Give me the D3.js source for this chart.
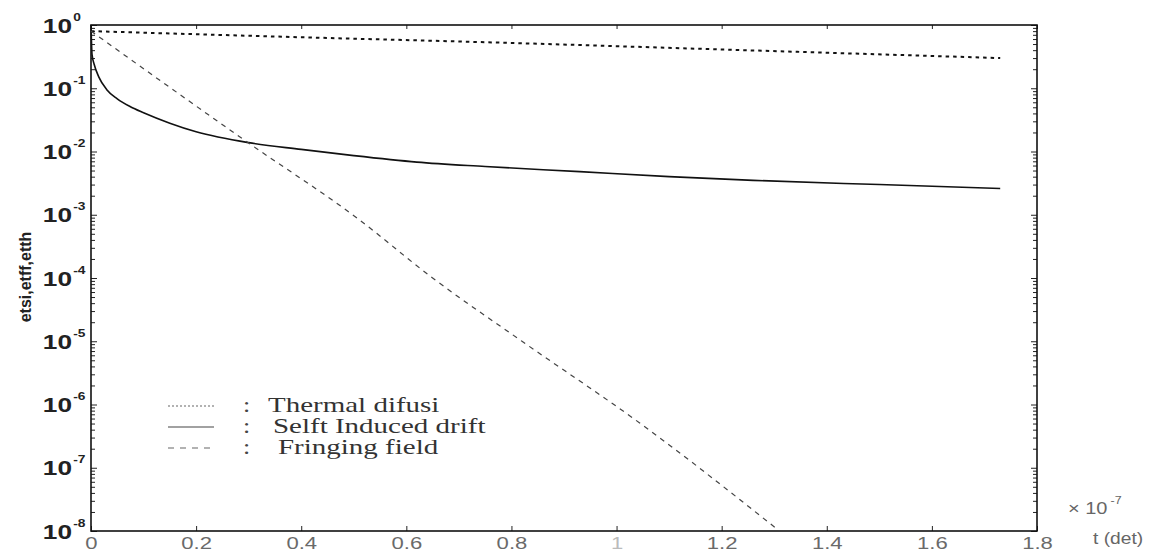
<!DOCTYPE html>
<html>
<head>
<meta charset="utf-8">
<script src="https://cdn.jsdelivr.net/npm/d3@7"></script>
<style>
  body { margin: 0; background: #fff; }
  svg { display: block; }
</style>
</head>
<body>
<div id="chart"></div>
<script>
// --- data (t in units of 1e-7 s) ---
const thermalT = [0, 0.4, 0.8, 1.16, 1.73];
const thermalV = [0.80, 0.64, 0.52, 0.42, 0.30];

const selfT = [0, 0.002, 0.006, 0.015, 0.03, 0.05, 0.075, 0.1, 0.15, 0.2, 0.3, 0.4, 0.5, 0.62, 0.75, 0.93, 1.1, 1.26, 1.5, 1.73];
const selfV = [1.0, 0.34, 0.24, 0.15, 0.095, 0.068, 0.051, 0.041, 0.028, 0.0205, 0.0138, 0.0108, 0.0086, 0.0068, 0.0058, 0.0048, 0.0040, 0.0035, 0.0030, 0.0026];

const fringeT = [0, 0.3, 0.506, 0.65, 0.82, 1.044, 1.31];
const fringeV = [0.8, 0.0136, 8.9e-4, 1e-4, 1e-5, 5.1e-7, 1e-8];

const xTicks = [0, 0.2, 0.4, 0.6, 0.8, 1, 1.2, 1.4, 1.6, 1.8];
const yExponents = [0, -1, -2, -3, -4, -5, -6, -7, -8];

const legendLabels = ["Thermal difusi", "Selft Induced drift", "Fringing field"];
const yTitle = "etsi,etff,etth";
const xTitle = "t (det)";
const xMultiplier = "-7";

// --- sizing ---
const W = 1172, H = 556;
const plotL = 91, plotR = 1037, plotT = 25, plotB = 531;

const svg = d3.select("#chart").append("svg")
  .attr("width", W).attr("height", H);

const x = d3.scaleLinear().domain([0, 1.8]).range([plotL, plotR]);
const y = d3.scaleLog().domain([1e-8, 1]).range([plotB, plotT]);

// minor ticks on log axis
const minorY = [];
yExponents.forEach(e => {
  if (e === 0) return;
  for (let k = 2; k <= 9; k++) minorY.push(k * Math.pow(10, e));
});
const majorY = yExponents.map(e => Math.pow(10, e));

function styleAxis(g) {
  g.select(".domain").remove();
  g.selectAll(".tick line").attr("stroke", "#222").attr("stroke-width", 1);
}

// left / right ticks (inward)
svg.append("g").attr("transform", `translate(${plotL},0)`)
  .call(d3.axisLeft(y).tickValues(majorY).tickSize(-6).tickFormat(""))
  .call(styleAxis);
svg.append("g").attr("transform", `translate(${plotL},0)`)
  .call(d3.axisLeft(y).tickValues(minorY).tickSize(-4).tickFormat(""))
  .call(styleAxis);
svg.append("g").attr("transform", `translate(${plotR},0)`)
  .call(d3.axisRight(y).tickValues(majorY).tickSize(-6).tickFormat(""))
  .call(styleAxis);
svg.append("g").attr("transform", `translate(${plotR},0)`)
  .call(d3.axisRight(y).tickValues(minorY).tickSize(-4).tickFormat(""))
  .call(styleAxis);

// bottom / top ticks
const xAxisG = svg.append("g").attr("transform", `translate(0,${plotB})`)
  .call(d3.axisBottom(x).tickValues(xTicks).tickSize(-5).tickPadding(6)
    .tickFormat(d => d === 0 ? "0" : String(+d.toFixed(1))))
  .call(styleAxis);
xAxisG.selectAll(".tick text")
  .attr("font-family", "Liberation Sans, Arial, sans-serif")
  .attr("font-size", 17)
  .attr("fill", d => d === 1 ? "#bbb" : "#6a6a6a")
  .attr("transform", "scale(1.3,1)");

svg.append("g").attr("transform", `translate(0,${plotT})`)
  .call(d3.axisTop(x).tickValues(xTicks).tickSize(-4).tickFormat(""))
  .call(styleAxis);

// frame
svg.append("rect")
  .attr("x", plotL).attr("y", plotT)
  .attr("width", plotR - plotL).attr("height", plotB - plotT)
  .attr("fill", "none").attr("stroke", "#111").attr("stroke-width", 1.6);

// y tick labels 10^n
const yLab = svg.append("g").selectAll("g")
  .data(yExponents).enter().append("g")
  .attr("transform", e => `translate(72,${y(Math.pow(10, e)) + 7.5}) scale(1.25,1)`);
yLab.append("text")
  .attr("text-anchor", "end")
  .attr("font-family", "Liberation Sans, Arial, sans-serif")
  .attr("font-weight", "bold")
  .attr("font-size", 21)
  .attr("fill", "#222")
  .text("10");
yLab.append("text")
  .attr("x", 1).attr("y", -12)
  .attr("font-family", "Liberation Sans, Arial, sans-serif")
  .attr("font-weight", "bold")
  .attr("font-size", 11)
  .attr("fill", "#222")
  .text(e => e === 0 ? "0" : String(e));

// y title
svg.append("text")
  .attr("transform", `translate(31,277) rotate(-90)`)
  .attr("text-anchor", "middle")
  .attr("font-family", "Liberation Sans, Arial, sans-serif")
  .attr("font-weight", "bold")
  .attr("font-size", 16)
  .attr("fill", "#222")
  .text(yTitle);

// x multiplier and title
const mult = svg.append("g").attr("transform", "translate(1068,514) scale(1.25,1)");
mult.append("text")
  .attr("font-family", "Liberation Sans, Arial, sans-serif")
  .attr("font-size", 16).attr("fill", "#666")
  .text("\u00d7 10");
mult.append("text")
  .attr("x", 34).attr("y", -10)
  .attr("font-family", "Liberation Sans, Arial, sans-serif")
  .attr("font-size", 10).attr("fill", "#666")
  .text(xMultiplier);
svg.append("g").attr("transform", "translate(1093,544) scale(1.2,1)")
  .append("text")
  .attr("font-family", "Liberation Sans, Arial, sans-serif")
  .attr("font-size", 16).attr("fill", "#666")
  .text(xTitle);

// curves
const series = [
  { t: thermalT, v: thermalV, dash: "3.5,4", width: 2, color: "#111" },
  { t: selfT, v: selfV, dash: null, width: 1.6, color: "#111" },
  { t: fringeT, v: fringeV, dash: "5,5", width: 1.2, color: "#444" }
];

const line = d3.line()
  .x(d => x(d[0]))
  .y(d => y(d[1]))
  .curve(d3.curveMonotoneX);

const plot = svg.append("g");
series.forEach(s => {
  plot.append("path")
    .datum(s.t.map((t, i) => [t, s.v[i]]))
    .attr("d", line)
    .attr("fill", "none")
    .attr("stroke", s.color)
    .attr("stroke-width", s.width)
    .attr("stroke-dasharray", s.dash);
});

// legend
const legend = svg.append("g");
const rowY = d3.scalePoint().domain(legendLabels).range([406, 448]);
legendLabels.forEach((lab, i) => {
  const cy = rowY(lab);
  legend.append("line")
    .attr("x1", 168).attr("x2", 214).attr("y1", cy).attr("y2", cy)
    .attr("stroke", i === 1 ? "#444" : "#666")
    .attr("stroke-width", 1.2)
    .attr("stroke-dasharray", i === 0 ? "2,2" : (i === 2 ? "6,6" : null));
  legend.append("text")
    .attr("transform", `translate(243,${cy + 6}) scale(1.3,1)`)
    .attr("font-family", "Liberation Serif, Times New Roman, serif")
    .attr("font-size", 20).attr("fill", "#444")
    .text(":");
  legend.append("text")
    .attr("transform", `translate(${268 + i * 5},${cy + 6}) scale(1.45,1)`)
    .attr("font-family", "Liberation Serif, Times New Roman, serif")
    .attr("font-size", 20).attr("fill", "#333")
    .text(lab);
});
</script>
</body>
</html>
